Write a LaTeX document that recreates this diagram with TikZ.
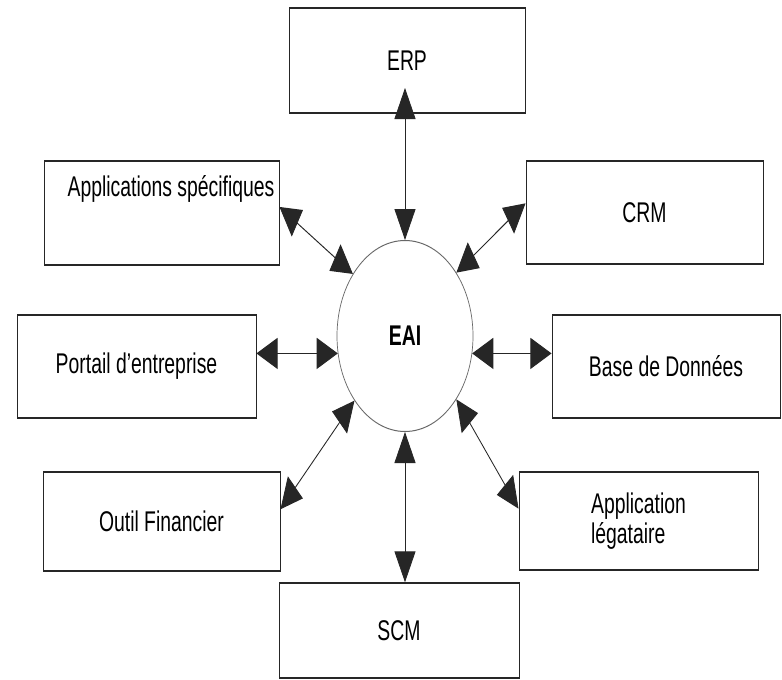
\documentclass[tikz,border=0pt]{standalone}
\usepackage{fontspec}
\setmainfont{Liberation Sans}
\usetikzlibrary{arrows.meta,shapes.geometric}
\begin{document}
\begin{tikzpicture}
\useasboundingbox[fill=white] (0pt,0pt) rectangle (782pt,-680pt);
\begin{scope}[transform canvas={xscale=0.68}, x=1.4705882pt, y=-1pt,
  box/.style args={#1x#2}{draw=black!85, line width=1.4pt, minimum width=#1pt/0.68, minimum height=#2pt, inner sep=0pt},
  lbl/.style={font=\fontsize{28.5}{30}\selectfont, text=black},
  link/.style={line width=1.1pt, draw=black!85, {Triangle[length=31pt,width=31pt]}-{Triangle[length=31pt,width=31pt]}}]
  \node[box=236x105, lbl] (erp) at (407,60.5) {ERP};
  \node[box=235x104] (apps) at (161.5,213) {};
  \node[lbl] (appsT) at (171,189) {Applications spécifiques};
  \node[box=237x103, lbl] (crm) at (644.5,212.5) {CRM};
  \node[box=239x103, lbl] (portail) at (136.5,366.5) {Portail d’entreprise};
  \node[box=228x103, lbl] (base) at (666,366.5) {Base de Données};
  \node[box=237x99, lbl] (outil) at (161.5,521.5) {Outil Financier};
  \node[box=239x98, lbl, align=left] (leg) at (638.5,521) {Application\\légataire};
  \node[box=240x95, lbl] (scm) at (399,630.5) {SCM};
  \node[draw=black!60, line width=1pt, ellipse, minimum width=136pt/0.68, minimum height=191pt, inner sep=0pt, font=\fontsize{28.5}{30}\selectfont\bfseries] (eai) at (405,336) {EAI};
  \coordinate (erptip) at (405,88);
  \draw[link] (eai.north) -- (erptip);
  \draw[link] (eai.south) -- (eai.south |- scm.north);
  \draw[link] (portail.east |- eai.190) -- (eai.190);
  \draw[link] (eai.350) -- (base.west |- eai.350);
  \draw[link] (apps.2) -- (eai.141);
  \draw[link] (crm.177) -- (eai.40);
  \draw[link] (outil.4) -- (eai.221);
  \draw[link] (leg.176) -- (eai.320);
\end{scope}
\end{tikzpicture}
\end{document}
